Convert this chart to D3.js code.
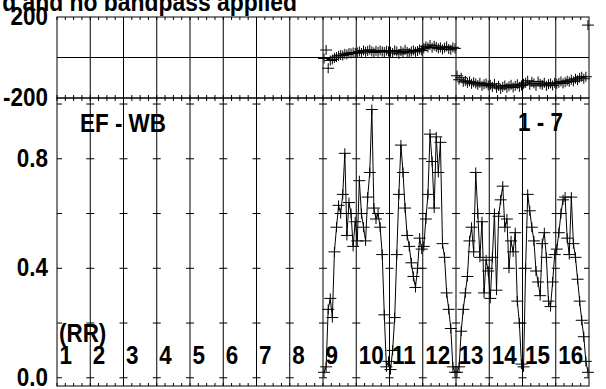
<!DOCTYPE html>
<html><head><meta charset="utf-8">
<script src="https://cdn.jsdelivr.net/npm/d3@7"></script>
<style>body{margin:0;background:#fff}svg{display:block}text{font-family:"Liberation Sans",Arial,sans-serif;font-weight:bold;fill:#000}</style>
</head><body>
<svg id="c" width="606" height="389"></svg>
<script>
// IF labels
const ifLabels = ["1","2","3","4","5","6","7","8","9","10","11","12","13","14","15","16"];
const nChan = 16;
const firstIF = 9;
// amplitude per IF (IF 9 .. 16), 16 channels each
const amp9  = [0.02,0.04,0.25,0.29,0.22,0.46,0.55,0.63,0.60,0.67,0.82,0.52,0.64,0.60,0.48,0.57];
const amp10 = [0.50,0.72,0.60,0.55,0.50,0.66,0.75,0.98,0.62,0.58,0.60,0.55,0.45,0.23,0.04,0.06];
const amp11 = [0.03,0.10,0.22,0.45,0.67,0.85,0.75,0.62,0.52,0.48,0.42,0.37,0.33,0.40,0.51,0.47];
const amp12 = [0.48,0.58,0.67,0.89,0.79,0.62,0.88,0.75,0.86,0.49,0.44,0.31,0.25,0.18,0.04,0.02];
const amp13 = [0.02,0.04,0.17,0.25,0.31,0.37,0.50,0.55,0.46,0.75,0.60,0.44,0.57,0.31,0.43,0.39];
const amp14 = [0.29,0.44,0.60,0.32,0.59,0.65,0.70,0.55,0.58,0.40,0.50,0.46,0.53,0.28,0.20,0.05];
const amp15 = [0.04,0.40,0.67,0.61,0.55,0.50,0.39,0.35,0.30,0.49,0.53,0.44,0.28,0.26,0.35,0.45];
const amp16 = [0.47,0.53,0.60,0.65,0.66,0.51,0.45,0.66,0.49,0.44,0.36,0.28,0.21,0.15,0.06,0.02];
// phase (deg) per IF
const ph9  = [-5,37,-53,-15,-10,-2,2,8,12,10,18,15,22,20,25,22];
const ph10 = [25,30,22,35,28,32,38,30,25,33,28,35,30,27,34,30];
const ph11 = [28,22,35,30,18,32,25,38,28,22,30,35,28,32,40,35];
const ph12 = [45,55,50,62,48,58,52,45,50,40,48,55,42,38,50,45];
const ph13 = [-90,-110,-100,-120,-115,-125,-118,-130,-122,-128,-135,-125,-140,-132,-128,-138];
const ph14 = [-135,-145,-130,-150,-140,-155,-145,-138,-150,-142,-135,-148,-140,-132,-145,-138];
const ph15 = [-130,-125,-115,-135,-120,-128,-140,-118,-130,-135,-125,-140,-132,-128,-138,-125];
const ph16 = [-130,-125,-118,-128,-122,-115,-120,-110,-118,-105,-112,-100,-95,-105,-95,160];
const phaseTicks = [200,-200];
const ampTicks = [0.0,0.4,0.8];
const ampMinor = [0.0,0.2,0.4,0.6,0.8,1.0];
const title = "d and no bandpass applied";
const baselineLabel = "EF - WB";
const timeLabel = "1 - 7";
const stokesLabel = "(RR)";

const amps = [amp9,amp10,amp11,amp12,amp13,amp14,amp15,amp16];
const phs = [ph9,ph10,ph11,ph12,ph13,ph14,ph15,ph16];
const pts = [];
amps.forEach((a,i)=>a.forEach((v,c)=>pts.push({x:(firstIF-1+i)+(c+0.5)/nChan, amp:v, ph:phs[i][c]})));

const L=57,R=589,T1=17,B1=98,T2=98,B2=386;
const x = d3.scaleLinear().domain([0,16]).range([L,R]);
const yP = d3.scaleLinear().domain([-200,200]).range([B1,T1]);
const yA = d3.scaleLinear().domain([-0.03,1.022]).range([B2,T2]);
const svg = d3.select("#c");
const g = svg.append("g").attr("stroke","#000").attr("stroke-width",1).attr("fill","none");

// frames
g.append("rect").attr("x",L).attr("y",T1).attr("width",R-L).attr("height",B1-T1);
g.append("rect").attr("x",L).attr("y",T2).attr("width",R-L).attr("height",B2-T2);
// IF boundaries
d3.range(1,16).forEach(k=>{
  g.append("line").attr("x1",x(k)).attr("x2",x(k)).attr("y1",T1).attr("y2",B2);
});
// phase zero line
g.append("line").attr("x1",L).attr("x2",R).attr("y1",yP(0)).attr("y2",yP(0));
// minor x ticks
d3.range(0,64).forEach(q=>{
  const xx = x(q/4);
  [[T1,T1+3],[B1-3,B1+3],[B2-3,B2]].forEach(([a,b])=>g.append("line").attr("x1",xx).attr("x2",xx).attr("y1",a).attr("y2",b));
});
// amplitude ticks
ampMinor.forEach(v=>{
  const yy=yA(v);
  g.append("line").attr("x1",L).attr("x2",L+5).attr("y1",yy).attr("y2",yy);
  g.append("line").attr("x1",R-5).attr("x2",R).attr("y1",yy).attr("y2",yy);
  d3.range(1,16).forEach(k=>g.append("line").attr("x1",x(k)-4).attr("x2",x(k)+4).attr("y1",yy).attr("y2",yy));
});

// amplitude line
g.append("path").attr("d",d3.line().x(d=>x(d.x)).y(d=>yA(d.amp))(pts));
// crosses
const cross=(cx,cy)=>`M${cx-6},${cy}H${cx+6}M${cx},${cy-5}V${cy+5}`;
g.append("path").attr("d",pts.map(d=>cross(x(d.x),yA(d.amp))).join(""));
g.append("path").attr("d",pts.map(d=>cross(x(d.x),yP(d.ph))).join(""));

// texts (slightly taller glyphs, as in the reference)
const t = svg.append("g").style("font-size","22px");
const txt=(s,px,py,anchor,sx=1.02,sy=1.13)=>t.append("text").attr("transform",`translate(${px},${py}) scale(${sx},${sy})`).attr("text-anchor",anchor||"start").text(s);
phaseTicks.forEach(v=>txt(v,48,yP(v)+8,"end"));
ampTicks.forEach(v=>txt(d3.format(".1f")(v),48,yA(v)+8,"end"));
txt(title,297,11,"end",1.04,1.13);
txt(baselineLabel,80,132);
txt(timeLabel,518,131);
txt(stokesLabel,59,342);
ifLabels.forEach((s,i)=>txt(s,x(i)+2.5,364));
</script>
</body></html>
